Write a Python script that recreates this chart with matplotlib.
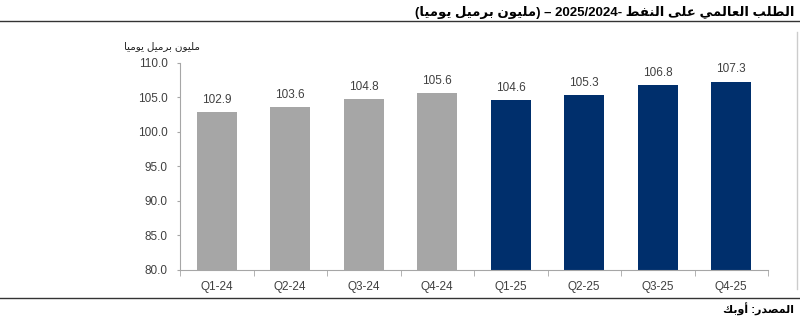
import matplotlib
matplotlib.use("Agg")
import matplotlib.pyplot as plt
from matplotlib.lines import Line2D

plt.rcParams['font.family'] = ['Liberation Sans', 'DejaVu Sans']

# data
quarters = ['Q1-24', 'Q2-24', 'Q3-24', 'Q4-24', 'Q1-25', 'Q2-25', 'Q3-25', 'Q4-25']
demand = [102.9, 103.6, 104.8, 105.6, 104.6, 105.3, 106.8, 107.3]
colors = ['#A6A6A6'] * 4 + ['#002F6C'] * 4
yticks = [80, 85, 90, 95, 100, 105, 110]

# simple arabic shaping (presentation forms), then visual order
FORMS = {
    'ا': (0xFE8D, 0xFE8E, None, None),
    'أ': (0xFE83, 0xFE84, None, None),
    'ب': (0xFE8F, 0xFE90, 0xFE91, 0xFE92),
    'د': (0xFEA9, 0xFEAA, None, None),
    'ر': (0xFEAD, 0xFEAE, None, None),
    'ص': (0xFEB9, 0xFEBA, 0xFEBB, 0xFEBC),
    'ط': (0xFEC1, 0xFEC2, 0xFEC3, 0xFEC4),
    'ع': (0xFEC9, 0xFECA, 0xFECB, 0xFECC),
    'ف': (0xFED1, 0xFED2, 0xFED3, 0xFED4),
    'ك': (0xFED9, 0xFEDA, 0xFEDB, 0xFEDC),
    'ل': (0xFEDD, 0xFEDE, 0xFEDF, 0xFEE0),
    'م': (0xFEE1, 0xFEE2, 0xFEE3, 0xFEE4),
    'ن': (0xFEE5, 0xFEE6, 0xFEE7, 0xFEE8),
    'و': (0xFEED, 0xFEEE, None, None),
    'ى': (0xFEEF, 0xFEF0, None, None),
    'ي': (0xFEF1, 0xFEF2, 0xFEF3, 0xFEF4),
}


def ar(s):
    out = []
    for i, c in enumerate(s):
        if c not in FORMS:
            out.append(c)
            continue
        prev = s[i-1] if i > 0 else ''
        nxt = s[i+1] if i < len(s)-1 else ''
        jp = prev in FORMS and FORMS[prev][2] is not None
        jn = nxt in FORMS and FORMS[c][2] is not None
        f = FORMS[c]
        if jp and jn:
            out.append(chr(f[3]))
        elif jp:
            out.append(chr(f[1]))
        elif jn:
            out.append(chr(f[2]))
        else:
            out.append(chr(f[0]))
    return ''.join(out)[::-1]


title = '(' + ar('مليون برميل يوميا') + ') – 2025/2024- ' + ar('الطلب العالمي على النفط')
unit = ar('مليون برميل يوميا')
source = ar('المصدر: أوبك')

fig = plt.figure(figsize=(8, 3.21), dpi=100)
ax = fig.add_axes([0.225, 0.159, 0.735, 0.645])

x = range(len(quarters))
bars = ax.bar(x, demand, width=0.54, color=colors, zorder=2)
for i, v in enumerate(demand):
    ax.text(i, v + 0.9, f'{v:.1f}', ha='center', va='bottom', fontsize=8.5, color='#404040')

ax.set_ylim(80, 110)
ax.set_xlim(-0.5, len(quarters) - 0.5)
ax.set_yticks(yticks)
ax.set_yticklabels([f'{t:.1f}' for t in yticks], fontsize=8.5, color='#404040')
ax.set_xticks(x)
ax.set_xticklabels(quarters, fontsize=8.5, color='#404040')
ax.set_xticks([i + 0.5 for i in range(-1, len(quarters))], minor=True)
ax.tick_params(axis='x', which='major', length=0, pad=8)
ax.tick_params(axis='x', which='minor', length=4, color='#A6A6A6')
ax.tick_params(axis='y', length=2.5, color='#A6A6A6', pad=6.5)
for s in ['top', 'right']:
    ax.spines[s].set_visible(False)
for s in ['left', 'bottom']:
    ax.spines[s].set_color('#A6A6A6')

fig.text(0.25, 0.855, unit, ha='right', va='center', fontsize=7.5, color='#222222')

# header / footer
fig.text(0.993, 0.962, title, ha='right', va='center', fontsize=9.5, fontweight='bold')
fig.add_artist(Line2D([0, 1], [0.935, 0.935], color='#333333', lw=1))
fig.add_artist(Line2D([0, 1], [0.072, 0.072], color='#333333', lw=1))
fig.add_artist(Line2D([0.996, 0.996], [0.1, 0.9], color='#CCCCCC', lw=1))
fig.text(0.993, 0.035, source, ha='right', va='center', fontsize=8, fontweight='bold')

fig.savefig('out.png', dpi=100)
